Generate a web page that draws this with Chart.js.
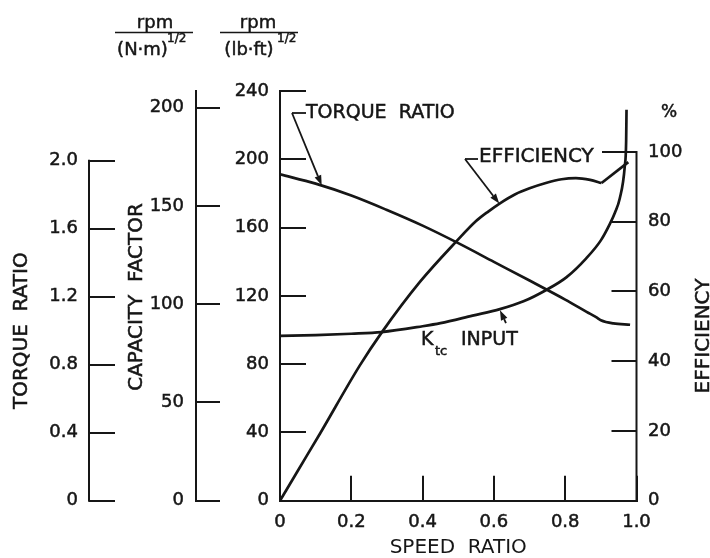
<!DOCTYPE html>
<html lang="en">
<head>
<meta charset="UTF-8"/>
<title>Torque converter performance</title>
<script src="https://cdn.jsdelivr.net/npm/chart.js"></script>
<style>
  html, body { margin: 0; padding: 0; background: #fff; }
</style>
</head>
<body>
<canvas id="tcChart" width="710" height="558"></canvas>
<script>
// --- values ---
// torque ratio vs speed ratio
const torqueSR  = [0, 0.1, 0.2, 0.3, 0.4, 0.5, 0.6, 0.7, 0.8, 0.86, 0.888, 0.9, 0.935, 0.982];
const torqueVal = [1.92, 1.865, 1.795, 1.71, 1.618, 1.515, 1.405, 1.295, 1.183, 1.111, 1.078, 1.062, 1.043, 1.035];

// efficiency (%), converter range, then coupling range
const effSR   = [0, 0.05, 0.112, 0.224, 0.285, 0.393, 0.496, 0.55, 0.585, 0.617, 0.66, 0.7, 0.748, 0.79, 0.83, 0.87, 0.902];
const effVal  = [0, 8.6, 19.2, 38.8, 48.2, 62.8, 74.5, 80.2, 83.0, 85.3, 87.9, 89.6, 91.2, 92.2, 92.5, 92.0, 91.1];
const coupSR  = [0.902, 0.977];
const coupVal = [91.1, 97.1];

// input capacity factor K_tc, rpm/(lb·ft)^1/2
const ktcSR  = [0, 0.1, 0.2, 0.285, 0.4, 0.45, 0.54, 0.617, 0.683, 0.748, 0.804, 0.859, 0.9, 0.925, 0.94, 0.953, 0.967, 0.971, 0.972];
const ktcVal = [96.5, 97, 97.8, 98.8, 102.2, 104, 108.4, 112.2, 116.8, 123.6, 131, 142, 152.5, 162, 169, 177, 195.7, 211, 229];

// tick labels
const speedTicks  = [0, 0.2, 0.4, 0.6, 0.8, 1.0];
const torqueTicks = [0, 0.4, 0.8, 1.2, 1.6, 2.0];
const nmTicks     = [0, 50, 100, 150, 200];
const lbftTicks   = [0, 40, 80, 120, 160, 200, 240];
const effTicks    = [0, 20, 40, 60, 80, 100];

const ink = '#161616';
const fam = 'DejaVu Sans';
const tickFont = { family: fam, size: 18 };

const pts = (xs, ys) => xs.map((v, i) => ({ x: v, y: ys[i] }));
const oneDec = v => v === 0 ? '0' : v.toFixed(1);
const whole = v => String(v);

// every axis has its ticks pointing inward (negative tick length) and a fixed box size
function makeAxis(position, weight, max, tickValues, boxSize, tickLen, gap, fmt, showBorder) {
  const horizontal = position === 'bottom';
  return {
    type: 'linear', position, weight, min: 0, max,
    afterBuildTicks: s => { s.ticks = tickValues.map(v => ({ value: v })); },
    afterFit: s => { if (horizontal) s.height = boxSize; else s.width = boxSize; },
    grid: { drawOnChartArea: false, drawTicks: true, tickLength: -tickLen, color: ink, lineWidth: 2 },
    border: { display: showBorder, color: ink, width: 2 },
    ticks: {
      font: tickFont, color: ink, padding: tickLen + gap, autoSkip: false, maxRotation: 0,
      textStrokeColor: ink, textStrokeWidth: 0.5, callback: fmt
    }
  };
}

function seg(ctx, x0, y0, x1, y1) {
  ctx.beginPath(); ctx.moveTo(x0, y0); ctx.lineTo(x1, y1); ctx.stroke();
}
function arrow(ctx, x0, y0, x1, y1) {
  const a = Math.atan2(y1 - y0, x1 - x0), L = 10, W = 3.5;
  const bx = x1 - L * Math.cos(a), by = y1 - L * Math.sin(a);
  seg(ctx, x0, y0, bx, by);
  ctx.beginPath();
  ctx.moveTo(x1, y1);
  ctx.lineTo(bx + W * Math.sin(a), by - W * Math.cos(a));
  ctx.lineTo(bx - W * Math.sin(a), by + W * Math.cos(a));
  ctx.closePath(); ctx.fill();
}
function text(ctx, str, x, y, size, align) {
  ctx.font = size + 'px "' + fam + '"';
  ctx.textAlign = align || 'left';
  ctx.textBaseline = 'middle';
  ctx.fillText(str, x, y);
  ctx.save(); ctx.lineWidth = 0.5; ctx.strokeText(str, x, y); ctx.restore();
}
function vText(ctx, str, x, y, size) {
  ctx.save(); ctx.translate(x, y); ctx.rotate(-Math.PI / 2);
  text(ctx, str, 0, 0, size, 'center');
  ctx.restore();
}

// captions, units, part-length axis lines and curve labels
const figureText = {
  id: 'figureText',
  afterDraw(chart) {
    const { ctx } = chart;
    const { x, y, yTR, yEff } = chart.scales;
    ctx.save();
    ctx.strokeStyle = ink; ctx.fillStyle = ink;

    // these two axis lines stop at the last labelled tick
    ctx.lineWidth = 2; ctx.lineCap = 'square';
    seg(ctx, yTR.right, yTR.getPixelForValue(0), yTR.right, yTR.getPixelForValue(2.0));
    seg(ctx, yEff.left, yEff.getPixelForValue(0), yEff.left, yEff.getPixelForValue(100));
    ctx.lineCap = 'butt';

    // axis titles
    vText(ctx, 'TORQUE  RATIO', 22, yTR.getPixelForValue(1.0), 20);
    vText(ctx, 'CAPACITY  FACTOR', 137, 297, 20);
    vText(ctx, 'EFFICIENCY', 704, 336, 20);
    text(ctx, '%', 669, 113, 17, 'center');

    // units above the two capacity-factor scales
    ctx.lineWidth = 1.6;
    text(ctx, 'rpm', 155, 23, 18, 'center');
    seg(ctx, 115, 32.5, 193, 32.5);
    text(ctx, '(N·m)', 142.5, 50, 18, 'center');
    text(ctx, '1/2', 167, 39, 12, 'left');
    text(ctx, 'rpm', 258, 23, 18, 'center');
    seg(ctx, 220, 32.5, 298, 32.5);
    text(ctx, '(lb·ft)', 249, 50, 18, 'center');
    text(ctx, '1/2', 277, 39, 12, 'left');

    // TORQUE RATIO label with leader
    ctx.lineWidth = 1.8;
    text(ctx, 'TORQUE  RATIO', 306, 113, 19);
    const tx = x.getPixelForValue(0.117), ty = yTR.getPixelForValue(1.855);
    seg(ctx, 306, 113, 292, 113);
    arrow(ctx, 292, 113, tx, ty);

    // EFFICIENCY label with leaders
    text(ctx, 'EFFICIENCY', 479, 157, 20);
    const ex = x.getPixelForValue(0.615), ey = yEff.getPixelForValue(85.2);
    seg(ctx, 478, 159, 465, 159);
    arrow(ctx, 465, 159, ex, ey);
    seg(ctx, 602, yEff.getPixelForValue(100), yEff.left, yEff.getPixelForValue(100));

    // K_tc INPUT label with arrow
    text(ctx, 'K', 421, 340, 19);
    text(ctx, 'tc', 435, 352, 13);
    text(ctx, 'INPUT', 461, 340, 19);
    const kx = x.getPixelForValue(0.617), ky = y.getPixelForValue(112.2);
    arrow(ctx, kx + 6, ky + 14, kx, ky + 1);

    ctx.restore();
  }
};

const lineStyle = {
  borderColor: ink, borderWidth: 2.7, pointRadius: 0, fill: false,
  cubicInterpolationMode: 'monotone'
};

new Chart(document.getElementById('tcChart'), {
  type: 'line',
  data: {
    datasets: [
      Object.assign({ label: 'Torque ratio', data: pts(torqueSR, torqueVal), yAxisID: 'yTR' }, lineStyle),
      Object.assign({ label: 'Efficiency', data: pts(effSR, effVal), yAxisID: 'yEff' }, lineStyle),
      Object.assign({ label: 'Efficiency (coupling)', data: pts(coupSR, coupVal), yAxisID: 'yEff' }, lineStyle, { tension: 0, cubicInterpolationMode: 'default' }),
      Object.assign({ label: 'Ktc input', data: pts(ktcSR, ktcVal), yAxisID: 'y' }, lineStyle)
    ]
  },
  options: {
    responsive: false,
    animation: false,
    devicePixelRatio: 1,
    layout: { padding: { top: 91, left: 0, right: 0, bottom: 0 } },
    plugins: { legend: { display: false }, tooltip: { enabled: false } },
    scales: {
      x: Object.assign(makeAxis('bottom', 0, 1, speedTicks, 57.3, 25, 11, oneDec, true), {
        title: { display: true, text: 'SPEED  RATIO', color: ink, font: { family: fam, size: 20, lineHeight: 1 }, padding: 0 }
      }),
      y:    makeAxis('left', 1, 240, lbftTicks, 84, 26, 11, whole, true),
      yCF:  makeAxis('left', 2, 208.5, nmTicks, 107, 24, 12, whole, true),
      yTR:  makeAxis('left', 3, 2.41, torqueTicks, 89, 26, 11, oneDec, false),
      yEff: makeAxis('right', 0, 117.5, effTicks, 73.5, 25, 11.5, whole, false)
    }
  },
  plugins: [figureText]
});
</script>
</body>
</html>
